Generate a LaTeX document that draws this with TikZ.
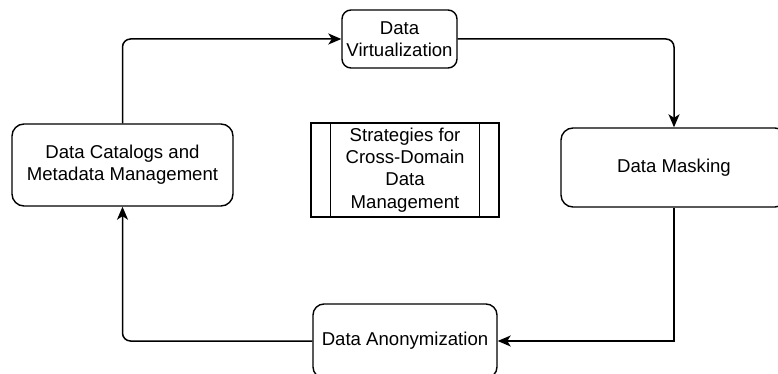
\documentclass[tikz,border=0pt]{standalone}
\usepackage{fontspec}
\setmainfont{Liberation Sans}
\usetikzlibrary{arrows.meta}
\begin{document}
\begin{tikzpicture}[x=1pt,y=-1pt,
  box/.style={draw, line width=1.4pt, fill=white, align=center, inner sep=0pt,
    font=\fontsize{18.6}{22.3}\selectfont},
  arr/.style={draw, line width=1.5pt, rounded corners=8pt,
    -{Stealth[length=13pt,width=11pt,inset=3.5pt]}}
]
\useasboundingbox (0,0) rectangle (778,374);
\clip (0,0) rectangle (778,374);
\node[box, rounded corners=9pt, minimum width=115pt, minimum height=58pt] (dv) at (399.5,39) {Data\\Virtualization};
\node[box, rounded corners=12pt, minimum width=221pt, minimum height=82pt] (cat) at (122.5,165) {Data Catalogs and\\Metadata Management};
\node[box, rounded corners=12pt, minimum width=226pt, minimum height=79pt] (mask) at (674,167.5) {Data Masking};
\node[box, rounded corners=11pt, minimum width=184pt, minimum height=74pt] (anon) at (405,341) {Data Anonymization};
\node[box, minimum width=188pt, minimum height=94pt] (strat) at (405,170) {Strategies for\\Cross-Domain\\Data\\Management};
\draw[line width=1.4pt] ([xshift=20pt]strat.north west) -- ([xshift=20pt]strat.south west);
\draw[line width=1.4pt] ([xshift=-20pt]strat.north east) -- ([xshift=-20pt]strat.south east);
\draw[arr] (cat.north) |- (dv.west);
\draw[arr] (dv.east) -| (mask.north);
\draw[arr, sharp corners] (mask.south) |- (anon.east);
\draw[arr] (anon.west) -| (cat.south);
\end{tikzpicture}
\end{document}
